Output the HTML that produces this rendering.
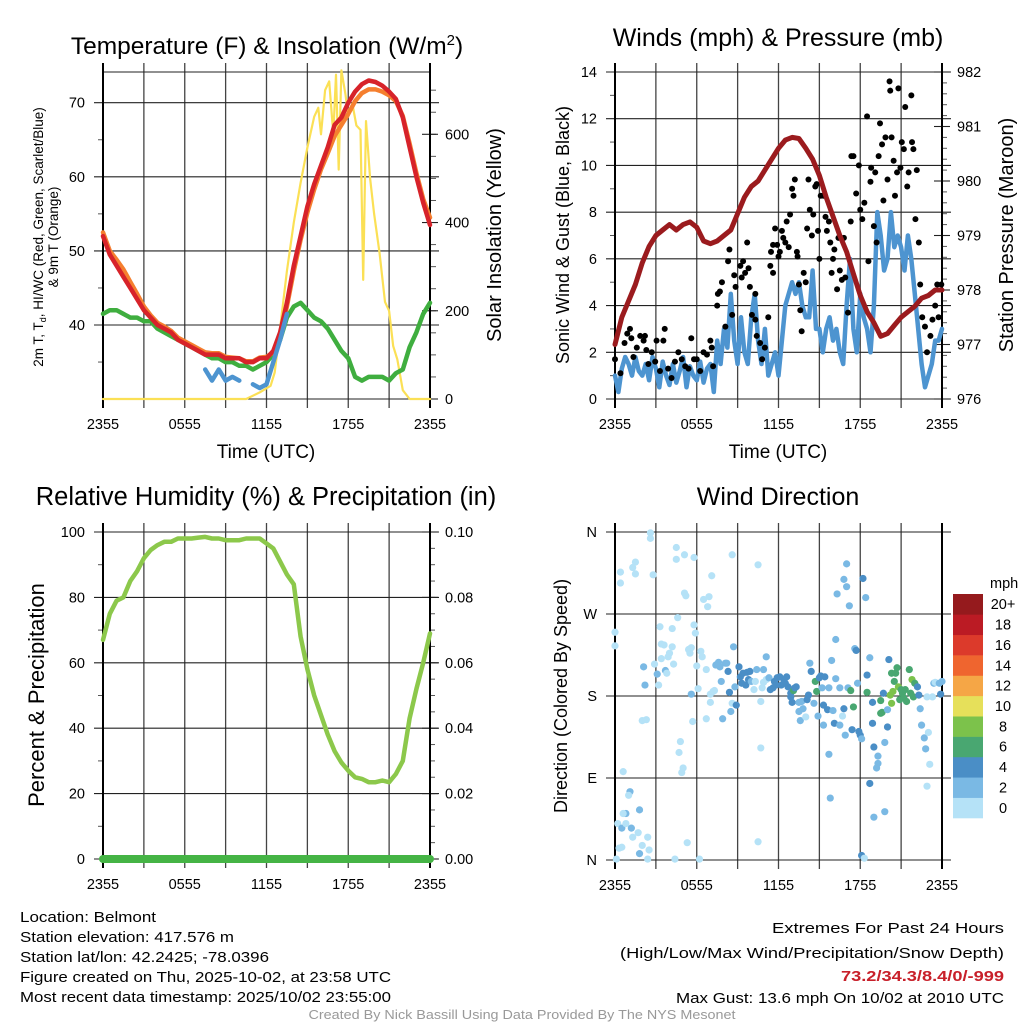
<!DOCTYPE html>
<html><head><meta charset="utf-8">
<style>
html,body{margin:0;padding:0;background:#fff;}
svg{display:block;font-family:"Liberation Sans",sans-serif;}
</style></head>
<body>
<svg id="fig" width="1024" height="1024" viewBox="0 0 1024 1024" xmlns="http://www.w3.org/2000/svg">
<text x="267" y="54" font-size="24.5" text-anchor="middle">Temperature (F) &amp; Insolation (W/m<tspan font-size="15" dy="-9">2</tspan><tspan dy="9">)</tspan></text>
<text x="778" y="46" font-size="25" text-anchor="middle">Winds (mph) &amp; Pressure (mb)</text>
<text x="266" y="505" font-size="25.5" text-anchor="middle">Relative Humidity (%) &amp; Precipitation (in)</text>
<text x="778" y="505" font-size="25" text-anchor="middle">Wind Direction</text>
<text transform="translate(43,237) rotate(-90)" font-size="13.5" text-anchor="middle">2m T, T<tspan font-size="9" dy="3">d</tspan><tspan dy="-3">, HI/WC (Red, Green, Scarlet/Blue)</tspan></text>
<text transform="translate(58,237) rotate(-90)" font-size="13.5" text-anchor="middle">&amp; 9m T (Orange)</text>
<text transform="translate(501,235) rotate(-90)" font-size="20" text-anchor="middle">Solar Insolation (Yellow)</text>
<text transform="translate(569,235) rotate(-90)" font-size="18" text-anchor="middle">Sonic Wind &amp; Gust (Blue, Black)</text>
<text transform="translate(1013,235) rotate(-90)" font-size="20" text-anchor="middle">Station Pressure (Maroon)</text>
<text transform="translate(44,695) rotate(-90)" font-size="22" text-anchor="middle">Percent &amp; Precipitation</text>
<text transform="translate(567,696) rotate(-90)" font-size="18" text-anchor="middle">Direction (Colored By Speed)</text>
<text x="266" y="458" font-size="19" text-anchor="middle">Time (UTC)</text>
<text x="778" y="458" font-size="19" text-anchor="middle">Time (UTC)</text>
<g font-size="15">
<text x="20" y="922" textLength="136" lengthAdjust="spacingAndGlyphs">Location: Belmont</text>
<text x="20" y="942" textLength="214" lengthAdjust="spacingAndGlyphs">Station elevation: 417.576 m</text>
<text x="20" y="962" textLength="249" lengthAdjust="spacingAndGlyphs">Station lat/lon: 42.2425; -78.0396</text>
<text x="20" y="982" textLength="371" lengthAdjust="spacingAndGlyphs">Figure created on Thu, 2025-10-02, at 23:58 UTC</text>
<text x="20" y="1002" textLength="371" lengthAdjust="spacingAndGlyphs">Most recent data timestamp: 2025/10/02 23:55:00</text>
</g>
<g font-size="15" text-anchor="end">
<text x="1004" y="933" textLength="232" lengthAdjust="spacingAndGlyphs">Extremes For Past 24 Hours</text>
<text x="1004" y="958" textLength="384" lengthAdjust="spacingAndGlyphs">(High/Low/Max Wind/Precipitation/Snow Depth)</text>
<text x="1004" y="981" font-weight="bold" fill="#c8202a" textLength="163" lengthAdjust="spacingAndGlyphs">73.2/34.3/8.4/0/-999</text>
<text x="1004" y="1003" textLength="328" lengthAdjust="spacingAndGlyphs">Max Gust: 13.6 mph On 10/02 at 2010 UTC</text>
</g>
<text x="522" y="1019" font-size="12.5" fill="#999" text-anchor="middle" textLength="427" lengthAdjust="spacingAndGlyphs">Created By Nick Bassill Using Data Provided By The NYS Mesonet</text>
</svg>
<script>
// ---------- data ----------
const hours = [0,0.5,1,1.5,2,2.5,3,3.5,4,4.5,5,5.5,6,6.5,7,7.5,8,8.5,9,9.5,10,10.5,11,11.5,12,12.5,13,13.5,14,14.5,15,15.5,16,16.5,17,17.5,18,18.5,19,19.5,20,20.5,21,21.5,22,22.5,23,23.5,24];
const timeTickHours = [0,6,12,18,24];
const timeTickLabels = ["2355","0555","1155","1755","2355"];
const tempVals = [52,49.5,48,46.5,45,43.5,42,41,40,39.5,39,38,37.5,37,36.5,36,36,36,35.5,35.5,35.5,35,35,35.5,35.5,36.5,39,43,48,52,56,59,61.5,64,67,68,70,71.5,72.5,73,72.8,72.3,71.5,70.5,68,64,60,56.5,53.5];
const temp9mVals = [52.5,50,48.8,47.5,45.8,44.2,42.5,41.3,40.3,39.8,39.2,38.3,37.8,37.3,36.8,36.3,36.2,36.2,35.7,35.6,35.5,35.1,35.1,35.6,35.7,36.3,38.5,42.5,47.3,51.5,55.2,58.3,61,63.2,65.5,67,68.5,70.2,71.3,71.8,71.8,71.5,71,70.2,68.2,64.5,60.5,57,54.5];
const dewVals = [41.5,42,42,41.5,41,41,40.5,40.5,39.5,39,38.5,38,37.5,37,36.5,36,35.5,35.5,35,35,34.5,34.5,34,34.5,35,36,38,41,42.5,43,42,41,40.5,39.5,38,36.5,35.5,33,32.5,33,33,33,32.5,33.5,34,37,39,41.5,43];
const chillVals = [null,null,null,null,null,null,null,null,null,null,null,null,null,null,null,34,32.5,34,32.5,33,32.5,null,32,31.5,32,35,38,41.5,null,null,null,null,null,null,null,null,null,null,null,null,null,null,null,null,null,null,null,null,null];
const solarHours = [0,10.5,11.5,12.3,12.6,13,13.5,14,14.5,15,15.5,15.8,16,16.3,16.6,16.9,17.1,17.3,17.5,17.8,18,18.3,18.6,18.9,19.1,19.3,19.6,19.9,20.3,20.7,21,21.3,21.6,22,22.5,24];
const solarVals = [0,0,15,30,60,160,290,400,490,570,640,660,600,700,720,600,735,520,745,690,640,670,620,610,270,630,500,420,330,220,200,120,90,20,0,0];
const windVals = [1.0,0.3,1.3,1.8,1.5,1.0,1.8,1.2,1.0,1.5,0.8,1.8,1.3,0.5,1.6,1.0,0.6,1.5,0.7,1.2,1.8,0.5,1.4,1.0,0.8,1.6,0.7,1.3,1.5,0.3,
 2.5,1.5,3.0,2.2,4.5,2.5,1.5,3.5,2.0,1.5,3.5,4.5,2.5,1.5,3.0,1.0,1.5,2.0,1.0,2.5,4.0,4.5,5.0,4.5,5.0,4.0,3.5,3.5,5.5,3.0,3.0,2.0,3.0,3.5,2.5,3.0,2.0,1.5,4.0,6.0,3.0,2.0,4.5,3.5,3.0,2.0,4.0,8.0,7.0,5.5,6.0,8.0,6.5,7.0,6.5,5.5,7.0,6.0,4.5,3.0,1.5,0.5,1.0,1.5,2.5,2.5,3.0];
const windHours = windVals.map((_, i) => i * 0.25);
const pressVals = [977.0,977.5,977.8,978.1,978.5,978.8,979.0,979.1,979.2,979.1,979.2,979.25,979.15,978.9,978.85,978.9,979.0,979.1,979.4,979.7,979.9,980.0,980.2,980.4,980.6,980.75,980.8,980.78,980.6,980.4,980.1,979.7,979.35,979.0,978.7,978.3,977.9,977.6,977.4,977.15,977.2,977.35,977.5,977.6,977.7,977.85,977.9,978.0,978.0];
const gustHours = [0,0.4,0.7,0.9,1.1,1.2,1.35,1.6,1.85,2.1,2.2,2.3,2.45,2.7,2.95,3.05,3.3,3.55,3.65,3.9,4.15,4.4,4.65,4.9,5.15,5.4,5.6,5.8,6.0,6.25,6.5,6.75,7.0,7.1,7.2,7.5,7.55,7.7,7.85,8.1,8.3,8.4,8.6,8.75,8.85,9.2,9.3,9.4,9.55,9.7,9.8,9.9,10.05,10.3,10.3,10.4,10.65,10.8,11.0,11.25,11.4,11.45,11.6,11.6,11.75,11.9,12.0,12.1,12.25,12.35,12.5,12.6,12.75,12.85,13.0,13.1,13.2,13.35,13.4,13.5,13.6,13.7,13.85,14.0,14.1,14.2,14.3,14.45,14.55,14.7,14.8,14.9,15.0,15.1,15.3,15.45,15.55,15.7,15.8,15.9,16.0,16.1,16.3,16.4,16.5,16.65,16.8,16.9,17.1,17.3,17.35,17.5,17.7,17.9,18.0,18.15,18.3,18.5,18.6,18.75,18.8,19.0,19.1,19.2,19.35,19.45,19.6,19.7,19.85,20.0,20.15,20.2,20.3,20.45,20.55,20.7,20.8,20.95,21.05,21.2,21.3,21.45,21.55,21.75,21.8,21.9,22.05,22.15,22.3,22.4,22.55,22.75,22.9,23.15,23.3,23.5,23.65,23.75,23.95];
const gustVals = [1.7,1.1,2.4,2.8,3.0,2.6,1.8,2.2,2.7,2.5,2.7,2.1,1.5,2.0,1.6,2.5,1.2,2.5,3.0,1.3,0.9,1.6,2.0,1.7,1.4,1.3,2.6,1.7,1.7,1.2,2.0,1.9,2.5,2.2,1.4,4.0,4.5,4.6,5.0,3.1,5.9,6.4,3.6,5.3,4.8,5.7,5.2,5.9,5.4,6.7,5.6,4.8,3.6,4.5,3.4,2.7,2.4,1.7,2.2,3.5,5.7,6.3,6.6,5.4,7.3,6.6,6.1,6.3,7.2,6.9,6.7,7.6,6.5,7.9,9.0,8.7,9.4,6.3,6.1,4.9,3.8,2.9,5.4,5.0,7.3,9.4,8.1,7.0,7.9,9.1,9.2,7.2,6.0,8.7,8.7,7.8,7.2,7.6,6.7,5.4,6.0,6.4,4.7,6.9,5.5,5.1,6.9,5.2,3.7,7.6,10.4,10.4,8.8,10.0,8.1,7.7,8.4,12.1,5.9,9.3,9.9,7.4,9.7,6.7,10.4,11.8,10.9,8.5,11.2,9.4,13.6,13.2,11.2,10.2,8.7,9.7,13.3,9.9,11.0,10.7,12.5,9.1,9.7,13.0,11.0,10.7,7.7,9.8,6.7,4.9,3.5,3.1,2.0,2.7,3.4,4.0,4.9,3.5,4.9];
const rhVals = [67,75,79,80,85,88,92,94.5,96,97,97,98,98,98,98.3,98.5,98,98,97.5,97.5,97.5,98,98,98,96.5,95,91,87,84,68,58,50,44,38,33,29.5,27,25,24.5,23.5,23.5,24,23.5,26,30,43,52,60,69];
const precipVals = [0,0,0,0,0,0,0,0,0,0,0,0,0,0,0,0,0,0,0,0,0,0,0,0,0,0,0,0,0,0,0,0,0,0,0,0,0,0,0,0,0,0,0,0,0,0,0,0,0];
const dirHours = [0,0,0.4,0.4,1.3,1.5,1.5,2.6,2.6,2.8,2.1,2.2,2.9,3.1,3.2,3.3,3.4,3.6,3.4,3.7,3.8,3.9,4.0,4.2,4.2,4.3,4.5,4.5,4.6,5.1,5.1,5.2,5.4,5.5,5.6,5.6,5.8,5.8,5.9,6.0,6.1,6.3,6.4,6.5,6.7,6.8,6.9,7.0,7.0,7.1,7.2,7.3,7.4,7.6,7.7,7.8,7.9,8.1,8.2,8.3,8.4,8.5,8.6,8.6,8.7,8.8,8.9,9.1,9.2,9.3,9.4,9.6,9.7,9.8,9.9,10.0,10.2,10.3,10.4,10.5,10.7,10.8,10.9,10.9,11.1,11.1,11.3,11.4,11.6,11.7,11.8,11.9,12.1,12.2,12.4,12.5,12.6,12.7,12.9,12.9,13.0,13.1,13.2,13.3,13.5,13.5,13.6,13.7,13.8,14.0,14.1,14.2,14.3,14.4,14.6,14.7,14.8,14.9,15.0,15.1,15.2,15.3,15.3,15.4,15.6,15.7,15.7,15.8,15.9,16.0,16.1,16.2,16.2,16.3,16.5,16.5,16.7,16.8,16.8,16.9,17.0,17.0,17.1,17.2,17.3,17.4,17.5,17.6,17.7,17.8,17.9,18.0,18.1,18.1,18.2,18.3,18.4,18.5,18.5,18.7,18.7,18.9,18.9,19.0,19.0,19.2,19.3,19.3,19.5,19.5,19.6,19.7,19.8,19.8,20.0,20.0,20.1,20.2,20.3,20.3,20.4,20.5,20.6,20.7,20.8,20.9,21.0,21.1,21.2,21.3,21.4,21.6,21.7,21.8,21.9,22.0,22.2,22.3,22.4,22.5,22.7,22.8,22.9,23.0,22.9,23.1,23.3,23.4,23.5,23.8,23.9,24.0,0.6,1.1,1.0,0.8,0.6,0.2,0.5,0.8,1.2,1.8,1.7,1.3,2.0,2.4,2.5,1.8,0.3,0.5,0.1,2.4,4.4,6.2,5.3,4.8,4.7,4.9,5.0,5.7,6.7,2.0,2.3,10.5,10.7];
const dirDegs = [250,235,304,316,321,327,314,359,353,313,212,192,215,204,192,256,237,236,221,208,205,223,227,234,254,215,343,330,266,335,293,290,231,227,233,182,332,258,249,213,188,229,223,286,209,278,289,182,173,312,185,186,214,217,212,196,155,216,216,207,184,163,172,335,234,190,170,212,201,194,205,192,206,198,207,196,187,196,209,324,174,189,209,195,223,198,200,187,189,196,192,200,201,192,198,194,201,190,183,179,173,186,189,190,173,163,153,174,166,157,176,181,216,207,172,196,185,158,200,202,189,148,170,201,165,189,116,68,219,164,150,199,242,292,148,189,158,308,166,137,325,300,189,279,186,143,168,232,230,194,141,137,133,5,309,2,288,203,184,222,84,150,173,47,124,101,114,106,161,175,162,183,53,129,146,165,220,181,172,205,185,196,205,211,190,176,187,183,178,187,174,209,183,198,179,194,190,181,166,148,134,122,179,140,81,105,179,194,195,194,182,196,97,75,71,51,51,40,35,40,35,55,30,25,16,25,11,7,13,14,1,1,1,1,19,130,118,96,101,152,155,153,154,20,123];
const dirSpeeds = [1,1,1,1,1,1,1,1,1,1,3,3,1,3,1,1,1,1,1,3,1,1,1,1,1,1,1,1,1,1,1,1,1,1,1,3,1,1,1,1,1,1,1,1,1,1,1,1,1,1,1,1,3,3,3,3,3,3,3,5,5,3,1,1,3,3,5,5,5,5,5,5,5,5,5,3,1,1,3,1,1,1,3,1,3,1,3,5,5,5,5,5,5,5,5,5,5,5,5,5,5,7,5,5,3,3,3,3,3,1,5,5,3,5,3,7,7,3,5,5,3,3,5,5,5,3,3,3,3,3,5,3,3,3,3,3,1,3,5,3,3,3,3,3,7,5,7,3,5,3,5,5,3,5,5,1,3,5,7,3,5,5,5,3,5,3,3,3,7,7,7,5,3,3,5,3,5,9,9,7,9,7,7,7,9,7,7,7,7,7,7,7,7,9,7,7,5,5,3,3,3,3,1,1,1,1,1,3,1,3,5,3,1,3,1,3,1,1,3,1,3,3,1,1,1,1,1,3,1,1,1,1,1,1,1,1,1,1,1,1,1,1,1,1,1];
const speedBins = [0,2,4,6,8,10,12,14,16,18,20];
const speedBinLabels = ["0","2","4","6","8","10","12","14","16","18","20+"];
const speedColors = ["#b5e2f7","#7ab9e4","#4a8ec6","#49a771","#7cc24b","#e6e05a","#f5a646","#ef652f","#dc3a2b","#bb1b24","#951a1d"];

// ---------- helpers ----------
const NS = "http://www.w3.org/2000/svg";
const svg = document.getElementById("fig");
function el(tag, attrs, parent){
  const e = document.createElementNS(NS, tag);
  for (const k in attrs) e.setAttribute(k, attrs[k]);
  (parent||svg).appendChild(e);
  return e;
}
function lin(d0,d1,r0,r1){ return v => r0 + (v-d0)*(r1-r0)/(d1-d0); }
function linePath(xs, ys, xf, yf){
  let d = "", pen = false;
  for (let i=0;i<xs.length;i++){
    if (ys[i]===null || ys[i]===undefined){ pen=false; continue; }
    d += (pen?"L":"M") + xf(xs[i]).toFixed(1) + "," + yf(ys[i]).toFixed(1);
    pen = true;
  }
  return d;
}
function frame(name){
  const g = el("g", {});
  
  
  return g;
}
function timeAxis(g, xf, T, B){
  for (let h=0; h<=24; h+=3){
    const ln = el("line", {x1:xf(h), x2:xf(h), y1:T-9, y2:B+9, stroke:"#444", "stroke-width":1.3}, g);
    
    
  }
  timeTickHours.forEach((h,i)=>{
    const t = el("text", {x:xf(h), y:B+30, "font-size":14.5, "text-anchor":"middle"}, g);
    t.textContent = timeTickLabels[i];
    
    
  });
}
function hGrid(g, vals, yf, L, R, labels, lx, anchor){
  vals.forEach((v,i)=>{
    const ln = el("line", {x1:L-9, x2:R+9, y1:yf(v), y2:yf(v), stroke:"#222", "stroke-width":1.1}, g);
    
    
    if (labels){
      const t = el("text", {x:lx, y:yf(v)+5, "font-size":14.5, "text-anchor":anchor}, g);
      t.textContent = labels[i];
      
      
    }
  });
}
function ticks(g, vals, yf, x, len){
  vals.forEach(v=>{
    el("line", {x1:x, x2:x+len, y1:yf(v), y2:yf(v), stroke:"#555", "stroke-width":1}, g);
  });
}
function rightLabels(g, vals, yf, x, labels){
  vals.forEach((v,i)=>{
    el("line", {x1:x-8, x2:x+8, y1:yf(v), y2:yf(v), stroke:"#222", "stroke-width":1.1}, g);
    const t = el("text", {x:x+15, y:yf(v)+5, "font-size":14.5}, g);
    t.textContent = labels[i];
    
    
  });
}
function box(g,L,R,T,B){
  el("line",{x1:L,x2:L,y1:T-9,y2:B+9,stroke:"#000","stroke-width":2},g);
  el("line",{x1:R,x2:R,y1:T-9,y2:B+9,stroke:"#000","stroke-width":2},g);
}
function series(name, xs, ys, xf, yf, color, w){
  const p = el("path", {d:linePath(xs,ys,xf,yf), fill:"none", stroke:color, "stroke-width":w, "stroke-linejoin":"round", "stroke-linecap":"round"});
  
  
  return p;
}
function range(a,b,s){ const r=[]; for(let v=a; v<=b+1e-9; v+=s) r.push(+v.toFixed(4)); return r; }

// ---------- panel 1 ----------
{
  const L=103,R=430,T=72,B=399;
  const xf = lin(0,24,L,R);
  const yT = lin(40,70,325,102.7);
  const yS = lin(0,600,399,134.3);
  const g = frame("temperature");
  timeAxis(g,xf,T,B);
  hGrid(g,[40,50,60,70],yT,L,R,["40","50","60","70"],85,"end");
  el("line",{x1:L,x2:R,y1:T,y2:T,stroke:"#222","stroke-width":1.1},g);
  el("line",{x1:L,x2:R,y1:B,y2:B,stroke:"#222","stroke-width":1.1},g);
  ticks(g,[35,45,55,65],yT,L-5,5);
  ticks(g,range(50,700,50),yS,R,6);
  rightLabels(g,[0,200,400,600],yS,R,["0","200","400","600"]);
  box(g,L,R,T,B);
  series("solar-insolation-line", solarHours, solarVals, xf, yS, "#fbe055", 2.2);
  series("dewpoint-line", hours, dewVals, xf, yT, "#3fae3f", 4.5);
  series("temp-9m-line", hours, temp9mVals, xf, yT, "#f57f2f", 4.5);
  series("temp-2m-line", hours, tempVals, xf, yT, "#d7232a", 4.5);
  series("wind-chill-line", hours, chillVals, xf, yT, "#4d94d0", 4.5);
}
// ---------- panel 2 ----------
{
  const L=615,R=942,T=72,B=399;
  const xf = lin(0,24,L,R);
  const yW = lin(0,14,B,T);
  const yP = lin(976,982,B,T);
  const g = frame("winds");
  timeAxis(g,xf,T,B);
  hGrid(g,[0,2,4,6,8,10,12,14],yW,L,R,["0","2","4","6","8","10","12","14"],597,"end");
  ticks(g,range(1,13,2),yW,L-5,5);
  ticks(g,range(976,982,0.2),yP,R,5);
  rightLabels(g,[976,977,978,979,980,981,982],yP,R,["976","977","978","979","980","981","982"]);
  box(g,L,R,T,B);
  series("sonic-wind-line", windHours, windVals, xf, yW, "#4d94d0", 4.5);
  const gg = el("g",{});
  
  
  gustHours.forEach((h,i)=>{
    const c = el("circle",{cx:xf(h), cy:yW(gustVals[i]), r:3, fill:"#000"}, gg);
    
    
  });
  series("station-pressure-line", hours, pressVals, xf, yP, "#9b1b1e", 5);
}
// ---------- panel 3 ----------
{
  const L=103,R=430,T=532,B=859;
  const xf = lin(0,24,L,R);
  const yR = lin(0,100,B,T);
  const yQ = lin(0,0.1,B,T);
  const g = frame("humidity");
  timeAxis(g,xf,T,B);
  hGrid(g,[0,20,40,60,80,100],yR,L,R,["0","20","40","60","80","100"],85,"end");
  ticks(g,range(10,90,20),yR,L-5,5);
  ticks(g,range(0,0.1,0.005),yQ,R,5);
  rightLabels(g,[0,0.02,0.04,0.06,0.08,0.1],yQ,R,["0.00","0.02","0.04","0.06","0.08","0.10"]);
  box(g,L,R,T,B);
  series("relative-humidity-line", hours, rhVals, xf, yR, "#8cc84b", 4.5);
  series("precipitation-line", hours, precipVals, xf, yQ, "#45b445", 8);
}
// ---------- panel 4 ----------
{
  const L=615,R=942,T=532,B=860;
  const xf = lin(0,24,L,R);
  const yD = lin(0,360,B,T);
  const g = frame("wind-direction");
  timeAxis(g,xf,T,B);
  hGrid(g,[0,90,180,270,360],yD,L,R,["N","E","S","W","N"],597,"end");
  box(g,L,R,T,B);
  const pg = el("g",{});
  
  
  function colorFor(s){ let k=0; for(let i=0;i<speedBins.length;i++){ if (s>=speedBins[i]) k=i; } return speedColors[k]; }
  dirHours.forEach((h,i)=>{
    const c = el("circle",{cx:xf(h), cy:yD(dirDegs[i]), r:3.6, fill:colorFor(dirSpeeds[i])}, pg);
    
    
  });
  const cb = el("g",{});
  
  
  const cbTop=594, cbBot=818, n=speedBins.length, bh=(cbBot-cbTop)/n;
  const mt = el("text",{x:990, y:588, "font-size":14.5},cb);
  mt.textContent = "mph";
  
  
  speedBins.forEach((b,i)=>{
    const y = cbBot - (i+1)*bh;
    const r = el("rect",{x:953, y:y, width:30, height:bh+0.3, fill:speedColors[i]},cb);
    
    
    const t = el("text",{x:1003, y:y+bh/2+5, "font-size":14.5, "text-anchor":"middle"},cb);
    t.textContent = speedBinLabels[i];
    
    
  });
}
</script>
</body></html>
